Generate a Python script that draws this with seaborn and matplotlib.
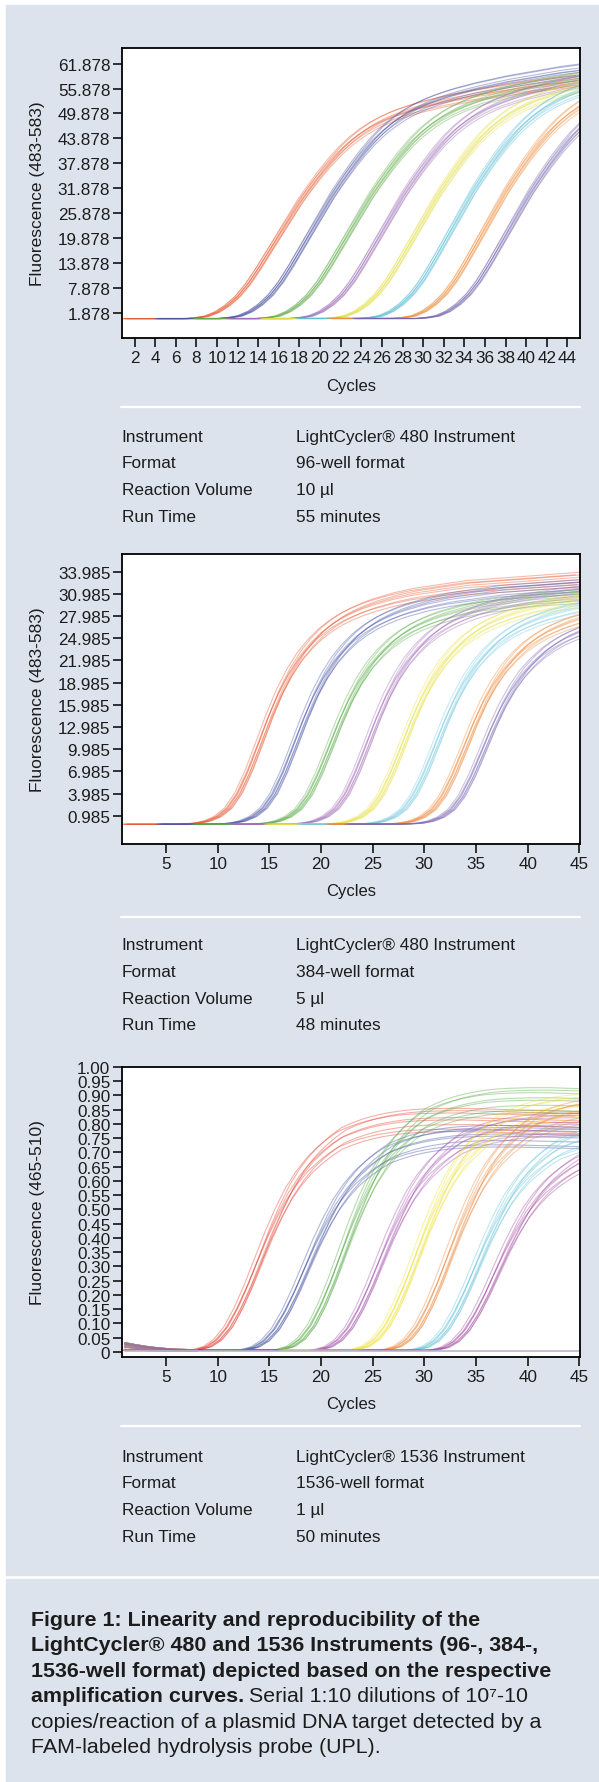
import matplotlib
matplotlib.use("Agg")
import matplotlib.pyplot as plt
from matplotlib.patches import Rectangle
from matplotlib.lines import Line2D
import seaborn as sns
import pandas as pd

W, H, DPI = 599, 1783, 100
BG = "#dce3ed"
INK = "#1c1c1c"

CYCLES = list(range(1, 46))

# 96-well: first dilution read per cycle, other dilutions = shift (cycles) + plateau scale
TPL_96 = [0.4, 0.4, 0.4, 0.4, 0.4, 0.4, 0.4,
          0.6, 1.0, 2.0, 3.6, 5.8, 8.8, 12.5, 16.5, 20.5, 24.5,
          28.5, 32.0, 35.3, 38.3, 41.0, 43.3, 45.2, 46.8, 48.1, 49.2,
          50.1, 50.9, 51.6, 52.2, 52.8, 53.3, 53.8, 54.3, 54.7, 55.1,
          55.5, 55.9, 56.3, 56.6, 56.9, 57.2, 57.5, 57.8]
SHIFT_96 = [0, 3.2, 6.9, 10.1, 13.5, 16.9, 20.1, 22.4]
SCALE_96 = [1.0, 1.06, 1.05, 1.06, 1.07, 1.1, 1.1, 1.08]
COLORS_96 = ["#e85a30", "#4d55a0", "#62ad4c", "#9d6fb6",
             "#e3df48", "#5ebfd6", "#f08e3e", "#7565ad"]
REP_DX_96 = [-0.28, -0.18, -0.08, 0.0, 0.06, 0.14, 0.22, 0.3]
REP_SY_96 = [0.99, 1.02, 0.98, 1.0, 1.025, 0.975, 1.01, 1.0]
YTICKS_96 = [1.878, 7.878, 13.878, 19.878, 25.878, 31.878,
             37.878, 43.878, 49.878, 55.878, 61.878]
XTICKS_96 = [2, 4, 6, 8, 10, 12, 14, 16, 18, 20, 22, 24,
             26, 28, 30, 32, 34, 36, 38, 40, 42, 44]
INFO_96 = ["LightCycler® 480 Instrument", "96-well format", "10 µl", "55 minutes"]

# 384-well
TPL_384 = [-0.15, -0.15, -0.15, -0.15, -0.15, -0.15,
           -0.1, 0.0, 0.3, 0.9, 2.0, 4.0, 7.0, 10.6, 14.3, 17.6,
           20.3, 22.5, 24.2, 25.6, 26.7, 27.6, 28.3, 28.9, 29.4, 29.8,
           30.2, 30.5, 30.8, 31.0, 31.2, 31.4, 31.6, 31.8, 31.9, 32.0,
           32.1, 32.2, 32.3, 32.4, 32.5, 32.6, 32.7, 32.8, 32.9]
SHIFT_384 = [0, 3.4, 6.8, 10.4, 13.8, 17.0, 19.8, 21.6]
SCALE_384 = [1.0, 0.98, 0.95, 0.975, 0.96, 0.95, 0.93, 0.9]
COLORS_384 = ["#e8552f", "#4c58a6", "#5aad4a", "#a470b8",
              "#e8e244", "#79cbe0", "#ee8a3c", "#7d6ab4"]
REP_DX_384 = [-0.35, -0.22, -0.1, 0.0, 0.08, 0.18, 0.28, 0.4]
REP_SY_384 = [1.02, 0.98, 1.0, 1.03, 0.97, 1.01, 0.99, 1.02]
YTICKS_384 = [0.985, 3.985, 6.985, 9.985, 12.985, 15.985,
              18.985, 21.985, 24.985, 27.985, 30.985, 33.985]
XTICKS_5 = [5, 10, 15, 20, 25, 30, 35, 40, 45]
INFO_384 = ["LightCycler® 480 Instrument", "384-well format", "5 µl", "48 minutes"]

# 1536-well
TPL_1536 = [0.006, 0.006, 0.006, 0.006, 0.006, 0.006, 0.006,
            0.008, 0.018, 0.042, 0.085, 0.15, 0.23, 0.32, 0.41, 0.49, 0.56,
            0.615, 0.66, 0.695, 0.725, 0.75, 0.765, 0.778, 0.788, 0.796, 0.802,
            0.807, 0.81, 0.812, 0.813, 0.814, 0.814, 0.814, 0.813, 0.812, 0.811,
            0.81, 0.809, 0.808, 0.807, 0.806, 0.805, 0.804, 0.803]
SHIFT_1536 = [0, 4.6, 8.1, 11.7, 15.3, 18.4, 21.1, 23.0]
SCALE_1536 = [1.0, 0.93, 1.085, 0.98, 1.06, 1.05, 0.95, 0.88]
COLORS_1536 = ["#e23c2c", "#3f4f9f", "#50a83f", "#a24fac",
               "#eee12a", "#ec873a", "#66c3d9", "#a2479f"]
REP_DX_1536 = [-0.42, -0.28, -0.14, 0.0, 0.1, 0.22, 0.34, 0.45]
REP_SY_1536 = [1.03, 0.96, 1.0, 1.05, 0.95, 1.01, 0.98, 1.04]
EARLY_CYC_1536 = [1, 2, 3, 4, 5, 6, 7, 8]
EARLY_1536 = [0.028, 0.022, 0.017, 0.013, 0.010, 0.008, 0.007, 0.006]
EARLY_SCALE_1536 = [0.3, 0.6, 0.85, 1.0, 1.15]
NTC_1536 = 0.002
YTICKS_1536 = [0, 0.05, 0.10, 0.15, 0.20, 0.25, 0.30, 0.35, 0.40, 0.45, 0.50,
               0.55, 0.60, 0.65, 0.70, 0.75, 0.80, 0.85, 0.90, 0.95, 1.00]
INFO_1536 = ["LightCycler® 1536 Instrument", "1536-well format", "1 µl", "50 minutes"]

TABLE_KEYS = ["Instrument", "Format", "Reaction Volume", "Run Time"]

CAPTION_BOLD = ["Figure 1: Linearity and reproducibility of the",
                "LightCycler® 480 and 1536 Instruments (96-, 384-,",
                "1536-well format) depicted based on the respective",
                "amplification curves."]
CAPTION_REG = ["Serial 1:10 dilutions of 10⁷-10",
               "copies/reaction of a plasmid DNA target detected by a",
               "FAM-labeled hydrolysis probe (UPL)."]

sns.set_theme(style="white")
plt.rcParams["font.family"] = ["Liberation Sans", "DejaVu Sans"]

fig = plt.figure(figsize=(W / DPI, H / DPI), dpi=DPI, facecolor="white")


def fx(px):
    return px / W


def fy(py):
    return 1 - py / H


# blue panels with thin white gap (kept behind the axes)
fig.patches.append(Rectangle((fx(6), fy(1576)), 1 - fx(6), fy(6) - fy(1576),
                             transform=fig.transFigure, color=BG, zorder=-5))
fig.patches.append(Rectangle((fx(6), 0), 1 - fx(6), fy(1580),
                             transform=fig.transFigure, color=BG, zorder=-5))

AX_L, AX_R, AX_H = 122, 580, 290


def curves_frame(tpl, shifts, scales, dxs, sys_):
    rows = []
    line = 0
    for g, (s, k) in enumerate(zip(shifts, scales)):
        for dx, sy in zip(dxs, sys_):
            for c, v in zip(CYCLES, tpl):
                rows.append({"x": c + s + dx, "y": v * k * sy, "group": g, "line": line})
            line += 1
    return pd.DataFrame(rows)


def panel(top, df, colors, xlim, ylim, yticks, ylabels, xticks, ylabel,
          cyc_y, div_y, row_y, info):
    ax = fig.add_axes([fx(AX_L), fy(top + AX_H), fx(AX_R - AX_L), AX_H / H])
    ax.set_facecolor("white")
    sns.lineplot(data=df, x="x", y="y", hue="group", units="line", estimator=None,
                 palette=colors, hue_order=list(range(len(colors))),
                 linewidth=0.8, alpha=0.4, legend=False, sort=False, ax=ax)
    ax.set_xlim(*xlim)
    ax.set_ylim(*ylim)
    ax.set_yticks(yticks)
    ax.set_yticklabels(ylabels)
    ax.set_xticks(xticks)
    ax.set_xticklabels([str(t) for t in xticks])
    for sp in ax.spines.values():
        sp.set_visible(True)
        sp.set_color("black")
        sp.set_linewidth(1.3)
    ax.tick_params(axis="both", direction="out", length=6.5, width=1.1,
                   color="black", labelsize=12.3, labelcolor=INK)
    ax.tick_params(axis="y", pad=1.9, left=True)
    ax.tick_params(axis="x", pad=2.0, bottom=True)
    ax.set_ylabel(ylabel, fontsize=12.5, color=INK, va="center")
    ax.yaxis.set_label_coords((38 - AX_L) / (AX_R - AX_L), 0.5)
    ax.set_xlabel("Cycles", fontsize=12, color=INK, va="center")
    ax.xaxis.set_label_coords(0.5, (top + AX_H - cyc_y) / AX_H)
    fig.add_artist(Line2D([fx(121), fx(580)], [fy(div_y), fy(div_y)],
                          transform=fig.transFigure, color="white", lw=1.6))
    for i, (k, v) in enumerate(zip(TABLE_KEYS, info)):
        yy = fy(row_y + i * 26.6)
        fig.text(fx(121.5), yy, k, fontsize=12.4, color=INK, va="center")
        fig.text(fx(296), yy, v, fontsize=12.4, color=INK, va="center")
    return ax


df96 = curves_frame(TPL_96, SHIFT_96, SCALE_96, REP_DX_96, REP_SY_96)
panel(49, df96, COLORS_96, (0.77, 45.23), (-4.27, 65.66), YTICKS_96,
      ["%.3f" % t for t in YTICKS_96], XTICKS_96, "Fluorescence (483-583)",
      386.7, 408.3, 437.3, INFO_96)

df384 = curves_frame(TPL_384, SHIFT_384, SCALE_384, REP_DX_384, REP_SY_384)
panel(555, df384, COLORS_384, (0.73, 45.07), (-2.82, 36.36), YTICKS_384,
      ["%.3f" % t for t in YTICKS_384], XTICKS_5, "Fluorescence (483-583)",
      891.7, 918.3, 946, INFO_384)

df1536 = curves_frame(TPL_1536, SHIFT_1536, SCALE_1536, REP_DX_1536, REP_SY_1536)
lab1536 = ["0"] + ["%.2f" % t for t in YTICKS_1536[1:]]
ax3 = panel(1068, df1536, COLORS_1536, (0.73, 45.07), (-0.018, 1.0), YTICKS_1536,
            lab1536, XTICKS_5, "Fluorescence (465-510)",
            1405, 1427.3, 1457.3, INFO_1536)

# early drift of all wells and the negative control line
early_rows = []
ln = 0
for g in range(len(COLORS_1536)):
    for k in EARLY_SCALE_1536:
        for c, v in zip(EARLY_CYC_1536, EARLY_1536):
            early_rows.append({"x": c, "y": v * k, "group": g, "line": ln})
        ln += 1
sns.lineplot(data=pd.DataFrame(early_rows), x="x", y="y", hue="group", units="line",
             estimator=None, palette=COLORS_1536, hue_order=list(range(8)),
             linewidth=0.9, alpha=0.45, legend=False, ax=ax3)
ntc = pd.DataFrame({"x": CYCLES, "y": [NTC_1536 for _ in CYCLES]})
sns.lineplot(data=ntc, x="x", y="y", color="#b9b6cc", linewidth=1.2, ax=ax3)
ax3.set_xlim(0.73, 45.07)
ax3.set_ylim(-0.018, 1.0)
ax3.set_xlabel("Cycles", fontsize=12, color=INK, va="center")
ax3.set_ylabel("Fluorescence (465-510)", fontsize=12.5, color=INK, va="center")

# caption
CAP_Y = [1620.7, 1646, 1671.7, 1696.7, 1722.3, 1747.3]
last_bold = None
for i, s in enumerate(CAPTION_BOLD):
    last_bold = fig.text(fx(30.6), fy(CAP_Y[i]), s, fontsize=15.4, fontweight="bold",
                         color=INK, va="center")
fig.canvas.draw()
bb = last_bold.get_window_extent(renderer=fig.canvas.get_renderer())
fig.text(bb.x1 / fig.bbox.width + fx(5.5), fy(CAP_Y[3]), CAPTION_REG[0],
         fontsize=15.4, color=INK, va="center")
fig.text(fx(30.6), fy(CAP_Y[4]), CAPTION_REG[1], fontsize=15.4, color=INK, va="center")
fig.text(fx(30.6), fy(CAP_Y[5]), CAPTION_REG[2], fontsize=15.4, color=INK, va="center")

fig.savefig("out.png", dpi=DPI, facecolor="white")
